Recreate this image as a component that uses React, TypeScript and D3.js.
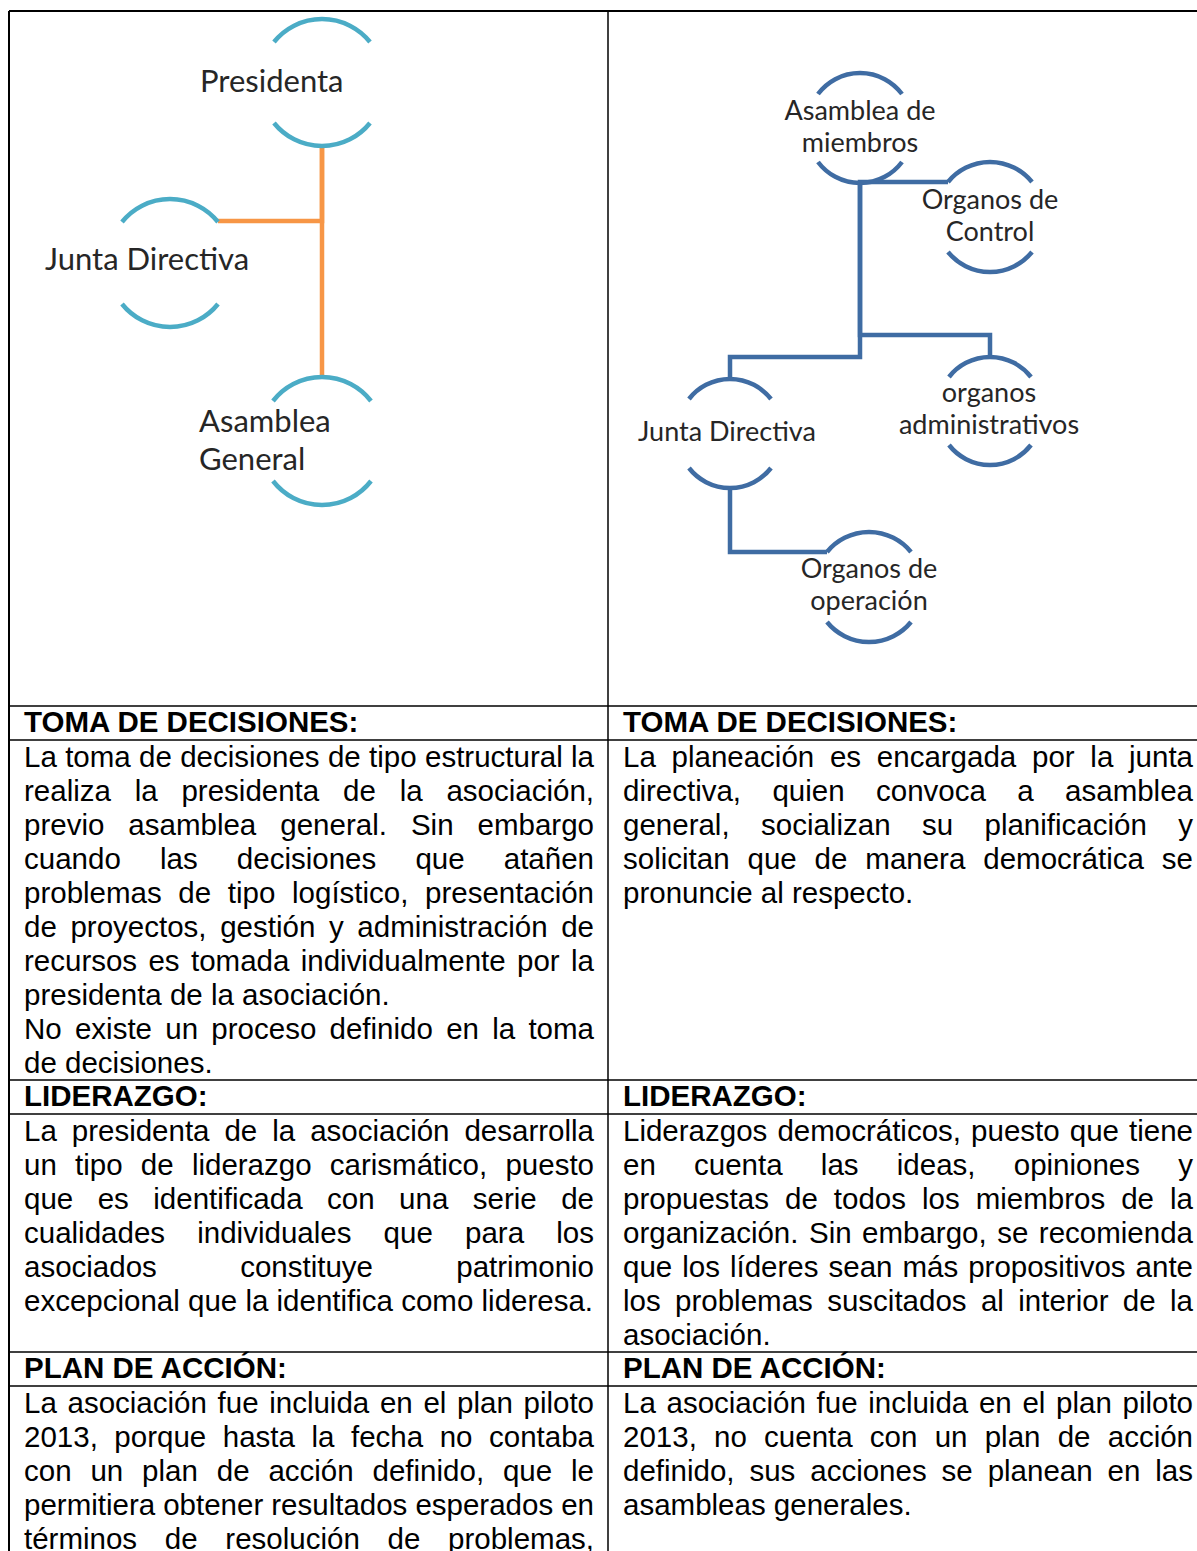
import * as React from "react";
import * as d3 from "d3";

// ---- organigrama actual (izquierda) ----
const leftNames = ["Presidenta", "Junta Directiva", "Asamblea General"];
const leftLabels = [["Presidenta"], ["Junta Directiva"], ["Asamblea", "General"]];
const leftParents = [null, "Presidenta", "Presidenta"];

// ---- organigrama propuesto (derecha) ----
const rightNames = [
  "Asamblea de miembros",
  "Organos de Control",
  "organos administrativos",
  "Junta Directiva",
  "Organos de operación"
];
const rightLabels = [
  ["Asamblea de", "miembros"],
  ["Organos de", "Control"],
  ["organos", "administrativos"],
  ["Junta Directiva"],
  ["Organos de", "operación"]
];
const rightParents = [
  null,
  "Asamblea de miembros",
  "Asamblea de miembros",
  "Asamblea de miembros",
  "Junta Directiva"
];

// ---- table text ----
const sectionTitles = ["TOMA DE DECISIONES:", "LIDERAZGO:", "PLAN DE ACCIÓN:"];

const leftTexts = [
  [
    {
      lines: [
        "La toma de decisiones de tipo estructural la",
        "realiza la presidenta de la asociación,",
        "previo asamblea general. Sin embargo",
        "cuando las decisiones que atañen",
        "problemas de tipo logístico, presentación",
        "de proyectos, gestión y administración de",
        "recursos es tomada individualmente por la",
        "presidenta de la asociación."
      ]
    },
    { lines: ["No existe un proceso definido en la toma", "de decisiones."] }
  ],
  [
    {
      lines: [
        "La presidenta de la asociación desarrolla",
        "un tipo de liderazgo carismático, puesto",
        "que es identificada con una serie de",
        "cualidades individuales que para los",
        "asociados constituye patrimonio",
        "excepcional que la identifica como lideresa."
      ]
    }
  ],
  [
    {
      lines: [
        "La asociación fue incluida en el plan piloto",
        "2013, porque hasta la fecha no contaba",
        "con un plan de acción definido, que le",
        "permitiera obtener resultados esperados en",
        "términos de resolución de problemas,"
      ],
      open: true
    }
  ]
];

const rightTexts = [
  [
    {
      lines: [
        "La planeación es encargada por la junta",
        "directiva, quien convoca a asamblea",
        "general, socializan su planificación y",
        "solicitan que de manera democrática se",
        "pronuncie al respecto."
      ]
    }
  ],
  [
    {
      lines: [
        "Liderazgos democráticos, puesto que tiene",
        "en cuenta las ideas, opiniones y",
        "propuestas de todos los miembros de la",
        "organización. Sin embargo, se recomienda",
        "que los líderes sean más propositivos ante",
        "los problemas suscitados al interior de la",
        "asociación."
      ]
    }
  ],
  [
    {
      lines: [
        "La asociación fue incluida en el plan piloto",
        "2013, no cuenta con un plan de acción",
        "definido, sus acciones se planean en las",
        "asambleas generales."
      ]
    }
  ]
];

// ---- layout of the diagram shapes (pixels) ----
const leftLayout: any = {
  Presidenta: { cx: 322, top: 19, bottom: 146, w: 48, s: 23, tx: 200, anchor: "start", ty: 92 },
  "Junta Directiva": { cx: 170, top: 199, bottom: 327, w: 48, s: 23, tx: 45, anchor: "start", ty: 270, attach: "right", elbow: 221 },
  "Asamblea General": { cx: 322, top: 377, bottom: 505, w: 49, s: 24, tx: 199, anchor: "start", ty: 432, attach: "top", elbow: 377 }
};
const rightLayout: any = {
  "Asamblea de miembros": { cx: 860, top: 73, bottom: 183, w: 42, s: 21, tx: 860, anchor: "middle", ty: 120 },
  "Organos de Control": { cx: 990, top: 162, bottom: 272, w: 42, s: 20, tx: 990, anchor: "middle", ty: 209, attach: "left", elbow: 182 },
  "organos administrativos": { cx: 990, top: 357, bottom: 465, w: 41, s: 20, tx: 989, anchor: "middle", ty: 402, attach: "top", elbow: 335 },
  "Junta Directiva": { cx: 730, top: 379, bottom: 488, w: 41, s: 20, tx: 727, anchor: "middle", ty: 441, attach: "top", elbow: 357 },
  "Organos de operación": { cx: 869, top: 532, bottom: 642, w: 42, s: 20, tx: 869, anchor: "middle", ty: 578, attach: "left", elbow: 552 }
};

const W = 1197;
const H = 1551;
const TOP = 11;
const DIAGRAM_H = 695;
const X0 = 9;
const XMID = 608;
const XR = 1207;
const PAD = 15;
const LINE_H = 34;
const FS = 29.5;
const BODY_FONT = '"Liberation Sans", Arial, Helvetica, sans-serif';
const CHART_FONT = 'Lato, "Open Sans", sans-serif';

let ctx: CanvasRenderingContext2D | null = null;
function measure(text: string, font: string) {
  if (!ctx) ctx = document.createElement("canvas").getContext("2d");
  ctx!.font = font;
  return ctx!.measureText(text).width;
}

function BodyLine({ text, x, y, width, justify, bold }: any) {
  const font = `${bold ? "bold " : ""}${FS}px ${BODY_FONT}`;
  const words = text.split(" ");
  const common = {
    y,
    fontFamily: BODY_FONT,
    fontSize: FS,
    fontWeight: bold ? "bold" : "normal",
    fill: "#000"
  };
  if (!justify || words.length < 2) {
    return (
      <text x={x} {...common}>
        {text}
      </text>
    );
  }
  const widths = words.map((w: string) => measure(w, font));
  const gap = (width - d3.sum(widths)) / (words.length - 1);
  let cur = x;
  return (
    <text {...common}>
      {words.map((w: string, i: number) => {
        const tx = cur;
        cur += widths[i] + gap;
        return (
          <tspan key={i} x={tx}>
            {w}
          </tspan>
        );
      })}
    </text>
  );
}

function arcs(n: any) {
  const r = (n.w * n.w + n.s * n.s) / (2 * n.s);
  const t = Math.asin(n.w / r);
  const top = d3.path();
  top.arc(n.cx, n.top + r, r, -Math.PI / 2 - t, -Math.PI / 2 + t, false);
  const bot = d3.path();
  bot.arc(n.cx, n.bottom - r, r, Math.PI / 2 - t, Math.PI / 2 + t, false);
  return [top.toString(), bot.toString()];
}

function Chart({ names, labels, parents, layout, arcColor, lineColor, fontSize, lineGap }: any) {
  const line = d3.line();
  const edges = names
    .map((name: string, i: number) => ({ child: name, parent: parents[i] }))
    .filter((e: any) => e.parent);
  return (
    <g>
      {edges.map((e: any) => {
        const p = layout[e.parent];
        const c = layout[e.child];
        const ax = c.attach === "left" ? c.cx - c.w : c.attach === "right" ? c.cx + c.w : c.cx;
        const ay = c.attach === "top" ? c.top : c.top + c.s;
        const pts: [number, number][] = [
          [p.cx, p.bottom],
          [p.cx, c.elbow],
          [ax, c.elbow],
          [ax, ay]
        ];
        return (
          <path
            key={e.child}
            d={line(pts) as string}
            fill="none"
            stroke={lineColor}
            strokeWidth={4.5}
            strokeLinejoin="miter"
          />
        );
      })}
      {names.map((name: string, i: number) => {
        const n = layout[name];
        const [a, b] = arcs(n);
        return (
          <g key={name}>
            <path d={a} fill="none" stroke={arcColor} strokeWidth={4.5} />
            <path d={b} fill="none" stroke={arcColor} strokeWidth={4.5} />
            {labels[i].map((l: string, j: number) => (
              <text
                key={j}
                x={n.tx}
                y={n.ty + j * lineGap}
                textAnchor={n.anchor}
                fontFamily={CHART_FONT}
                fontSize={fontSize}
                fill="#262626"
              >
                {l}
              </text>
            ))}
          </g>
        );
      })}
    </g>
  );
}

export default function App() {
  // row boundaries
  const bounds: number[] = [TOP, TOP + DIAGRAM_H];
  const rows: any[] = [];
  let y = TOP + DIAGRAM_H;
  sectionTitles.forEach((title, k) => {
    const nL = d3.sum(leftTexts[k], (p: any) => p.lines.length);
    const nR = d3.sum(rightTexts[k], (p: any) => p.lines.length);
    const headerY = y;
    y += LINE_H;
    bounds.push(y);
    const bodyY = y;
    y += Math.max(nL, nR) * LINE_H;
    bounds.push(y);
    rows.push({ title, headerY, bodyY, k });
  });

  const colText = (paras: any[], x0: number, y0: number, key: string) => {
    const out: any[] = [];
    let li = 0;
    paras.forEach((p: any) => {
      p.lines.forEach((l: string, j: number) => {
        const last = j === p.lines.length - 1 && !p.open;
        out.push(
          <BodyLine
            key={`${key}-${li}`}
            text={l}
            x={x0 + PAD}
            y={y0 + 27 + li * LINE_H}
            width={XMID - X0 - 2 * PAD + 1}
            justify={!last}
          />
        );
        li++;
      });
    });
    return out;
  };

  return (
    <svg
      width={W}
      height={H}
      style={{ position: "absolute", left: 0, top: 0, background: "#fff" }}
    >
      <rect width={W} height={H} fill="#fff" />
      <Chart
        names={leftNames}
        labels={leftLabels}
        parents={leftParents}
        layout={leftLayout}
        arcColor="#4BACC6"
        lineColor="#F79646"
        fontSize={31}
        lineGap={38}
      />
      <Chart
        names={rightNames}
        labels={rightLabels}
        parents={rightParents}
        layout={rightLayout}
        arcColor="#3F6CA3"
        lineColor="#3F6CA3"
        fontSize={27}
        lineGap={32}
      />
      {rows.map((r: any) => (
        <g key={r.title + r.k}>
          <BodyLine text={r.title} x={X0 + PAD} y={r.headerY + 26} bold />
          <BodyLine text={r.title} x={XMID + PAD} y={r.headerY + 26} bold />
          {colText(leftTexts[r.k], X0, r.bodyY, `l${r.k}`)}
          {colText(rightTexts[r.k], XMID, r.bodyY, `r${r.k}`)}
        </g>
      ))}
      {/* table rules */}
      {bounds.slice(1).map((b, i) => (
        <line key={i} x1={X0} x2={XR} y1={b} y2={b} stroke="#000" strokeWidth={1.5} />
      ))}
      <line x1={X0} x2={XR} y1={TOP} y2={TOP} stroke="#000" strokeWidth={2.2} />
      <line x1={X0} x2={X0} y1={TOP} y2={H + 20} stroke="#000" strokeWidth={2} />
      <line x1={XMID} x2={XMID} y1={TOP} y2={H + 20} stroke="#000" strokeWidth={1.5} />
    </svg>
  );
}
